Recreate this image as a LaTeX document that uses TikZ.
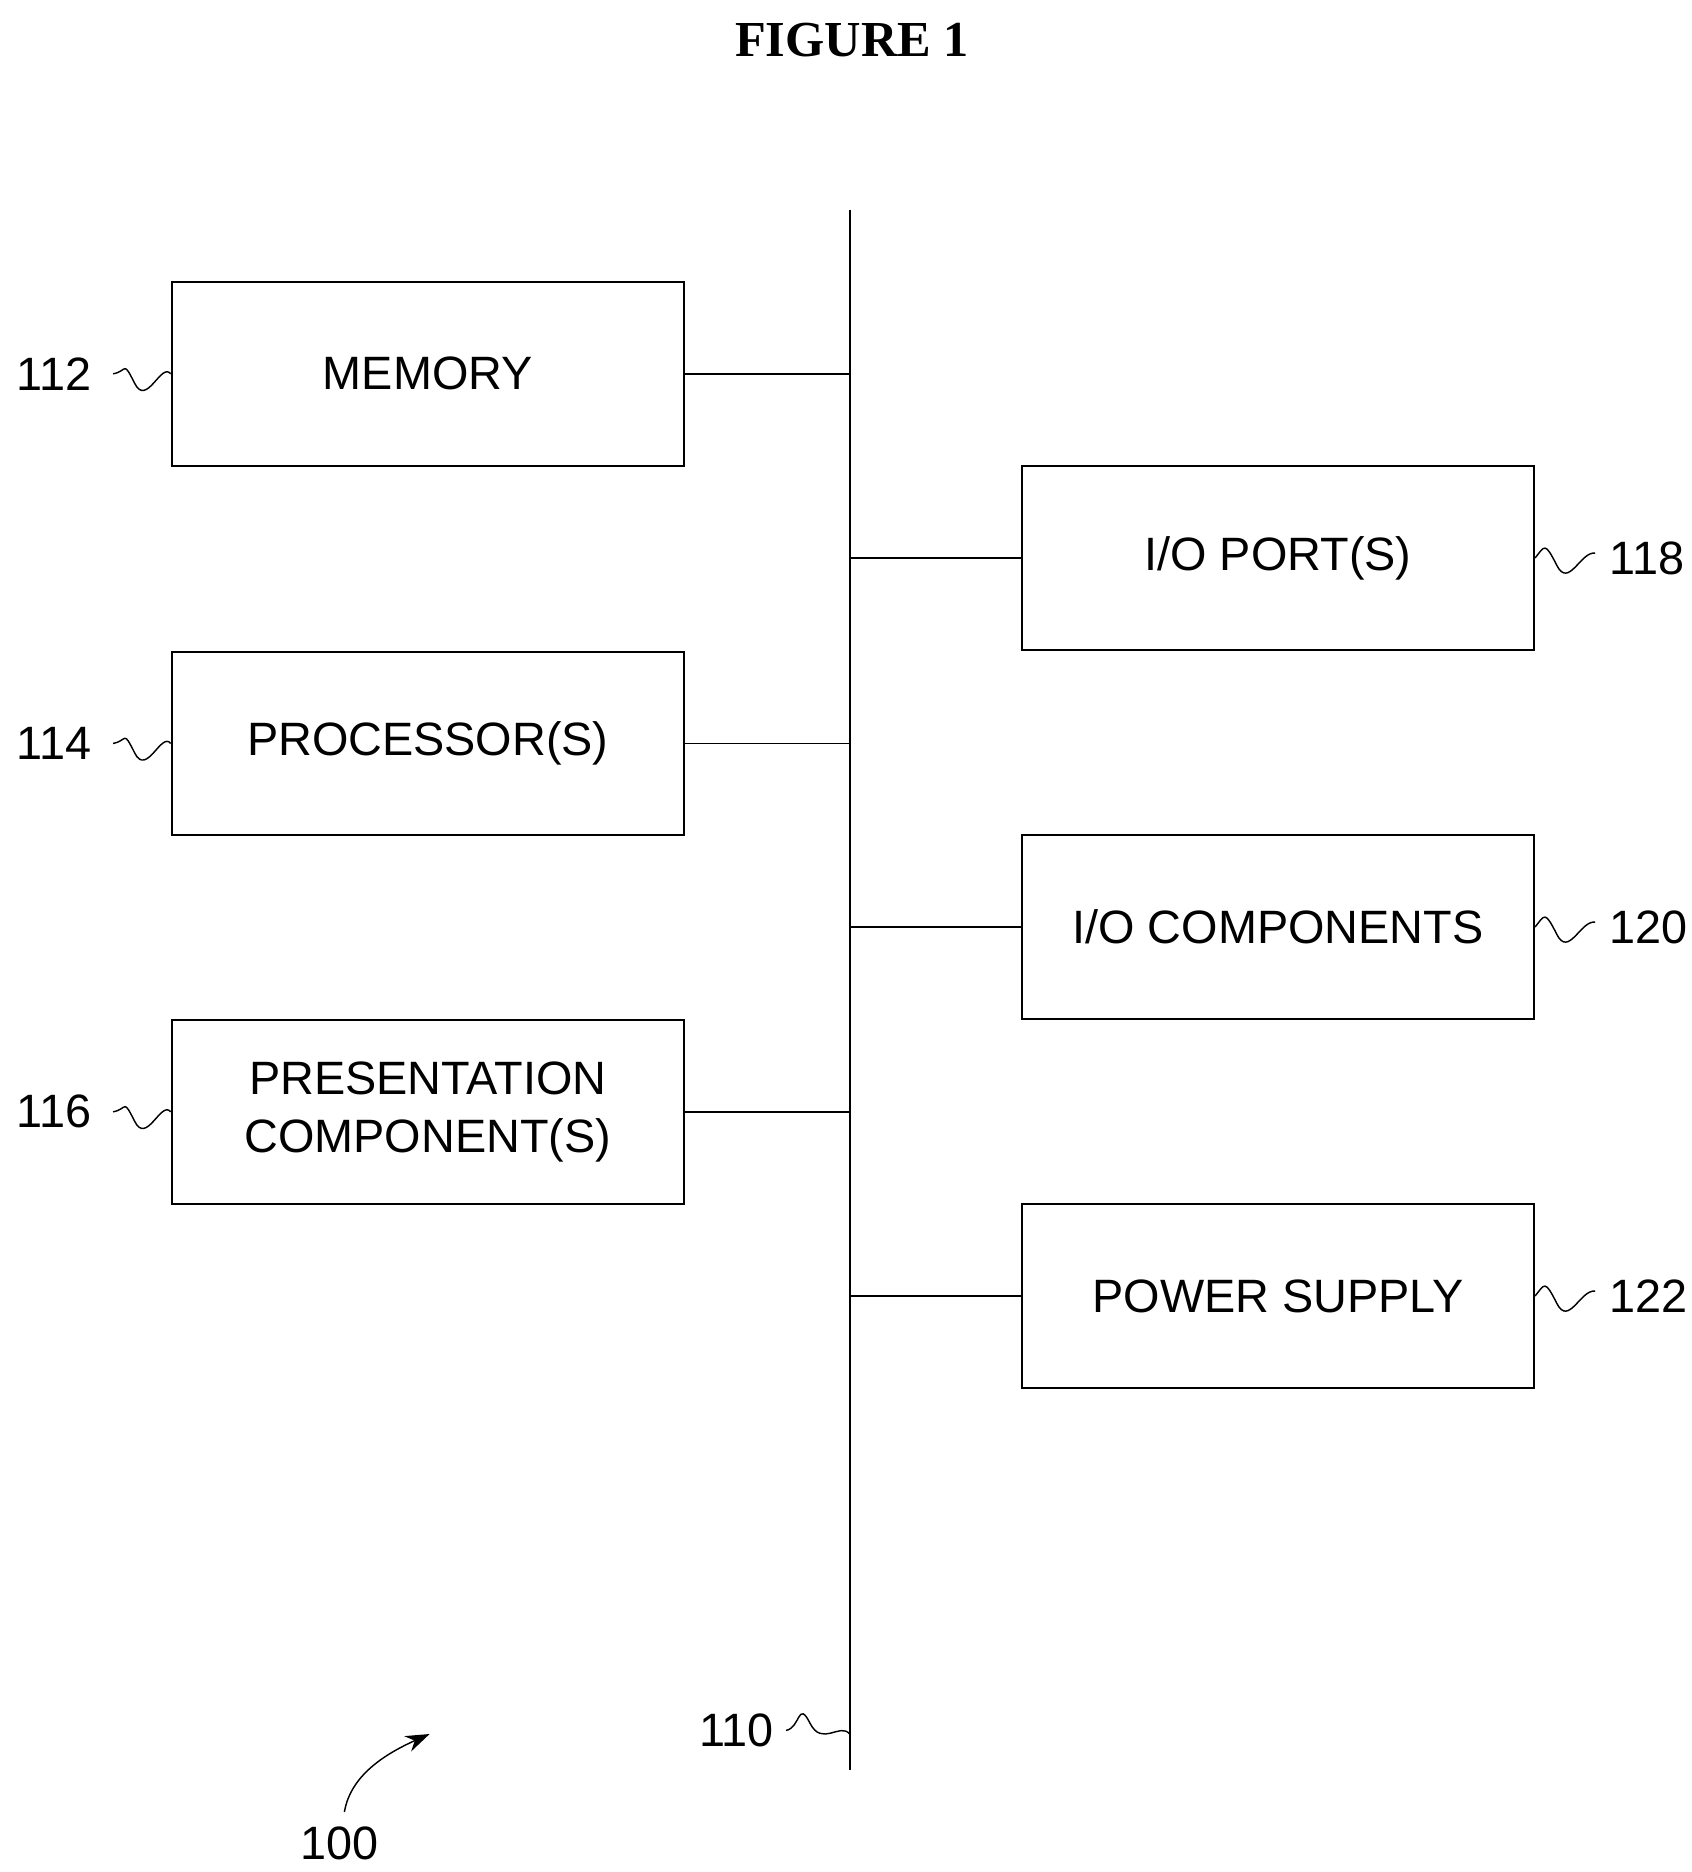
\documentclass[tikz,border=0pt]{standalone}
\usepackage{fontspec}
\setmainfont{Liberation Sans}
\newfontfamily\titlefont{Liberation Serif}
\usetikzlibrary{arrows.meta}
\begin{document}
\begin{tikzpicture}[x=1pt,y=-1pt,
  box/.style={draw,line width=1.5pt,minimum width=427pt,minimum height=153pt,align=center,font=\fontsize{39}{48}\selectfont,inner sep=0pt},
  lab/.style={font=\fontsize{39}{48}\selectfont,inner sep=0pt},
  ln/.style={line width=1.5pt},
  sq/.style={line width=1.2pt}]
\useasboundingbox (0,0) rectangle (1410,1560);
\node[font=\titlefont\bfseries\fontsize{42}{50}\selectfont] (title) at (710,33) {FIGURE 1};
\coordinate (bt) at (708,175);
\coordinate (bb) at (708,1475);
\draw[ln] (bt) -- (bb);
\node[box] (mem) at (356.5,311.5) {MEMORY};
\node[box] (proc) at (356.5,619.5) {PROCESSOR(S)};
\node[box] (pres) at (356.5,926.5) {PRESENTATION\\COMPONENT(S)};
\node[box] (iop) at (1065,465) {I/O PORT(S)};
\node[box] (ioc) at (1065,772.5) {I/O COMPONENTS};
\node[box] (pow) at (1065,1080) {POWER SUPPLY};
\foreach \n in {mem,proc,pres}{\draw[ln] (\n.east) -- (\n.east -| bt);}
\foreach \n in {iop,ioc,pow}{\draw[ln] (\n.west) -- (\n.west -| bt);}
% left labels
\foreach \n/\t in {mem/112,proc/114,pres/116}{
  \node[lab,anchor=east] (l\t) at ([xshift=-66pt]\n.west) {\t};
  \draw[sq] ([xshift=-48pt]\n.west) .. controls +(12,-2) and +(-10,-20) .. ([xshift=-30pt,yshift=-8pt]\n.west) .. controls +(10,20) and +(-8,-10) .. (\n.west);
}
\foreach \n/\t in {iop/118,ioc/120,pow/122}{
  \node[lab,anchor=west] (l\t) at ([xshift=62pt]\n.east) {\t};
  \draw[sq] (\n.east) .. controls +(8,-10) and +(-10,-20) .. ([xshift=18pt,yshift=-6pt]\n.east) .. controls +(10,20) and +(-12,-2) .. ([xshift=50pt,yshift=4pt]\n.east);
}
\coordinate (b110) at (708,1445);
\node[lab,anchor=east] (l110) at (645,1442) {110};
\draw[sq] (655,1442) .. controls +(12,-2) and +(-10,-20) .. (675,1436) .. controls +(10,20) and +(-8,-10) .. (b110);
\node[lab] (l100) at (283,1536) {100};
\coordinate (a100) at (358,1445);
\draw[sq,-{Stealth[length=20pt,width=14pt]}] (287,1510) .. controls (292,1480) and (320,1462) .. (a100);
\end{tikzpicture}
\end{document}
